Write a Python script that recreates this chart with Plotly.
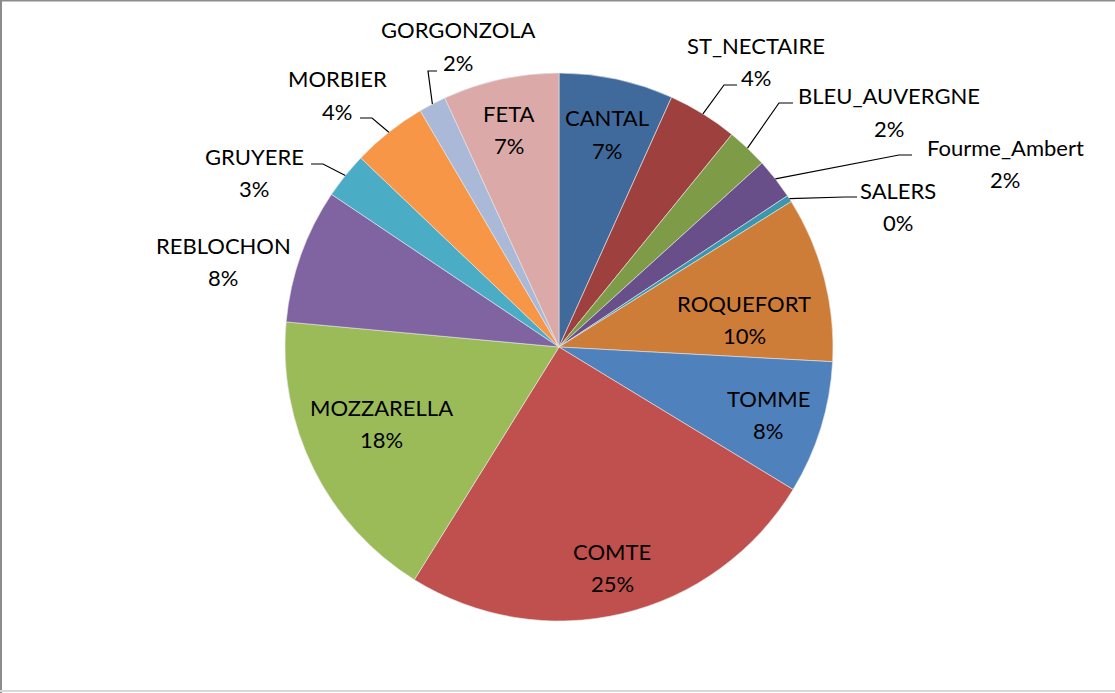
import math
import plotly.graph_objects as go

# --- data (clockwise from 12 o'clock) ---
cheeses = ["CANTAL", "ST_NECTAIRE", "BLEU_AUVERGNE", "Fourme_Ambert", "SALERS",
           "ROQUEFORT", "TOMME", "COMTE", "MOZZARELLA", "REBLOCHON",
           "GRUYERE", "MORBIER", "GORGONZOLA", "FETA"]
shares = [6.7, 4.1, 2.4, 2.4, 0.4, 9.7, 7.8, 25.0, 17.5, 7.9, 2.7, 4.4, 1.6, 6.8]
colors = ["#416A9C", "#9E413E", "#7E9C48", "#684F89", "#3A97AF", "#CE7D38", "#4F81BD",
          "#C0504D", "#9BBB59", "#8064A2", "#4BACC6", "#F79646", "#AAB9D7", "#DAA9A8"]

# --- page / pie geometry (pixels) ---
W, H = 1115, 693
CX, CY, R = 559, 347, 274

def px(x, y):
    return x / W, 1 - y / H

# label block centres (px), Excel-like placement
label_pos = {
    "CANTAL": (607, 134), "ST_NECTAIRE": (756, 61), "BLEU_AUVERGNE": (889, 112),
    "Fourme_Ambert": (1005, 164), "SALERS": (898, 206), "ROQUEFORT": (744, 319),
    "TOMME": (768, 414), "COMTE": (612, 567), "MOZZARELLA": (381, 423),
    "REBLOCHON": (223, 261), "GRUYERE": (254, 172), "MORBIER": (337, 95),
    "GORGONZOLA": (458, 46), "FETA": (509, 129),
}
# leader lines: elbow point and end point (px)
leaders = {
    "ST_NECTAIRE": ((724, 85), (737, 85)),
    "BLEU_AUVERGNE": ((779, 103), (793, 103)),
    "Fourme_Ambert": ((899, 155), (912, 155)),
    "SALERS": ((845, 197), (857, 197)),
    "GORGONZOLA": ((428, 71), (437, 71)),
    "MORBIER": ((372, 118), (360, 118)),
    "GRUYERE": ((323, 164), (311, 164)),
}

x0, y1 = px(CX - R, CY - R)
x1, y0 = px(CX + R, CY + R)

fig = go.Figure(go.Pie(
    labels=cheeses,
    values=shares,
    sort=False,
    direction="clockwise",
    rotation=0,
    marker=dict(colors=colors, line=dict(color="#E8E8E8", width=0.6)),
    textinfo="none",
    hoverinfo="label+percent",
    domain=dict(x=[x0, x1], y=[y0, y1]),
    showlegend=False,
))

total = sum(shares)
cum = 0
font = dict(family="Lato, Calibri, sans-serif", size=22, color="black")
for name, v in zip(cheeses, shares):
    pct = round(100 * v / total)
    mid = 2 * math.pi * (cum + v / 2) / total
    cum += v
    lx, ly = label_pos[name]
    for txt, dy in ((name, -16), (f"{pct}%", 16)):
        ax, ay = px(lx, ly + dy)
        fig.add_annotation(x=ax, y=ay, xref="paper", yref="paper", text=txt,
                           showarrow=False, font=font, xanchor="center", yanchor="middle")
    if name in leaders:
        ex, ey = CX + R * math.sin(mid), CY - R * math.cos(mid)
        (bx, by), (tx, ty) = leaders[name]
        pts = [px(ex, ey), px(bx, by), px(tx, ty)]
        path = "M " + " L ".join(f"{a:.5f},{b:.5f}" for a, b in pts)
        fig.add_shape(type="path", path=path, xref="paper", yref="paper",
                      line=dict(color="black", width=1.2))

# chart border (cropped Excel frame)
fig.add_shape(type="line", xref="paper", yref="paper", x0=0, x1=1, y0=1, y1=1,
              line=dict(color="#8C8C8C", width=3))
fig.add_shape(type="line", xref="paper", yref="paper", x0=0, x1=0, y0=0, y1=1,
              line=dict(color="#8C8C8C", width=4))
fig.add_shape(type="line", xref="paper", yref="paper", x0=0, x1=1, y0=0.003, y1=0.003,
              line=dict(color="#D9D9D9", width=2))

fig.update_layout(
    width=W, height=H,
    margin=dict(l=0, r=0, t=0, b=0),
    paper_bgcolor="white",
    plot_bgcolor="white",
)

# drop the browser's default 8px body margin so the figure sits at the page corner
fig.write_html("out.html", config={"displayModeBar": False},
               post_script="document.body.style.margin='0';")
